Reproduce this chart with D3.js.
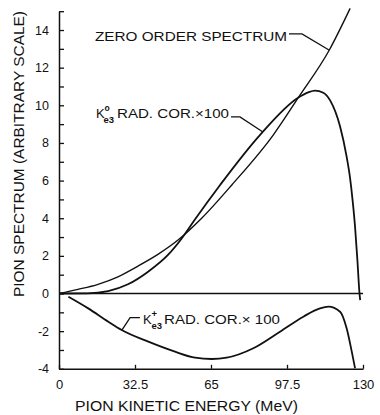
<!DOCTYPE html>
<html>
<head>
<meta charset="utf-8">
<script src="https://cdn.jsdelivr.net/npm/d3@7"></script>
<style>
body { margin: 0; background: #fff; }
text { font-family: "Liberation Sans", Arial, sans-serif; fill: #111; }
</style>
</head>
<body>
<div id="chart"></div>
<script>
// pion kinetic energy (MeV) and spectrum values
const zeroOrderE = [0, 8.1, 16.7, 25.2, 33.8, 42.3, 50.9, 61, 73.9, 91.6, 102.4, 115.6, 124.5];
const zeroOrderY = [0, 0.22, 0.49, 0.89, 1.46, 2.08, 2.84, 4.0, 5.77, 8.42, 10.42, 12.94, 15.15];

const k0E = [0, 12, 21, 29.5, 38.1, 46.6, 52.3, 58.2, 68.9, 85.9, 102.4, 106.6, 109.5, 113, 116, 120.2, 123, 124.4, 125.6, 126.6, 127.6, 128.5, 128.8];
const k0Y = [0, 0.01, 0.13, 0.49, 1.16, 2.05, 2.9, 3.95, 5.77, 8.42, 10.42, 10.69, 10.78, 10.67, 10.25, 8.87, 7.27, 6.2, 4.9, 3.55, 1.78, 0.01, -0.35];

const kPlusE = [4, 12.5, 21.1, 26.8, 38.2, 49.6, 58.2, 65.3, 71.7, 83.1, 94.5, 104.5, 111.6, 115.2, 120.2, 123, 125.2, 126.6];
const kPlusY = [-0.17, -0.79, -1.5, -1.94, -2.56, -3.09, -3.41, -3.48, -3.41, -2.91, -2.03, -1.23, -0.79, -0.7, -0.97, -1.85, -3.09, -3.97];

const xTicks = [0, 32.5, 65, 97.5, 130];
const xTickLabels = ["0", "32.5", "65", "97.5", "130"];
const yLabelled = [-4, -2, 0, 2, 4, 6, 8, 10, 12, 14];

// leader lines of the curve labels, in data units
const zeroLeader = [[98.35, 13.79], [103.9, 13.79], [115.45, 12.94]];
const k0Leader = [[73.55, 9.38], [77.4, 9.38], [87.2, 8.58]];
const kPlusLeader = [[34.6, -1.28], [30.4, -1.28], [26.9, -1.94]];

const margin = { top: 11.2, right: 17, bottom: 46.2, left: 59 };
const width = 380, height = 415;

const svg = d3.select('#chart').append('svg')
  .attr('width', width)
  .attr('height', height);

const x = d3.scaleLinear().domain([0, 130]).range([margin.left, width - margin.right]);
const y = d3.scaleLinear().domain([-4, 15]).range([height - margin.bottom, margin.top]);

const ink = '#111';

// y axis: a tick at every unit, label at the even ones
const yAxis = svg.append('g')
  .attr('transform', `translate(${margin.left},0)`)
  .call(d3.axisLeft(y)
    .tickValues(d3.range(-4, 16))
    .tickSize(-5)
    .tickSizeOuter(0)
    .tickPadding(10)
    .tickFormat(d => yLabelled.includes(d) ? String(d) : ''));
yAxis.select('.domain').attr('stroke', ink).attr('stroke-width', 1.5);
yAxis.selectAll('.tick line').attr('stroke', ink).attr('stroke-width', 1.3);
yAxis.selectAll('.tick text')
  .style('font-family', '"Liberation Sans", Arial, sans-serif')
  .style('font-size', '12.5px')
  .attr('fill', ink);

const xAxis = svg.append('g')
  .attr('transform', `translate(0,${y(-4)})`)
  .call(d3.axisBottom(x)
    .tickValues(xTicks)
    .tickSize(-4)
    .tickSizeOuter(0)
    .tickPadding(11)
    .tickFormat((d, i) => xTickLabels[i]));
xAxis.select('.domain').attr('stroke', ink).attr('stroke-width', 1.5);
xAxis.selectAll('.tick line').attr('stroke', ink).attr('stroke-width', 1.3);
xAxis.selectAll('.tick text')
  .style('font-family', '"Liberation Sans", Arial, sans-serif')
  .style('font-size', '13px')
  .attr('fill', ink);

// zero line
svg.append('line')
  .attr('x1', x(0)).attr('x2', x(130))
  .attr('y1', y(0)).attr('y2', y(0))
  .attr('stroke', ink)
  .attr('stroke-width', 1.5);

const line = d3.line()
  .x(d => x(d[0]))
  .y(d => y(d[1]))
  .curve(d3.curveMonotoneX);

const series = [
  { e: zeroOrderE, v: zeroOrderY, w: 1.4 },
  { e: k0E, v: k0Y, w: 1.8 },
  { e: kPlusE, v: kPlusY, w: 1.8 }
];

svg.append('g').selectAll('path')
  .data(series)
  .enter()
  .append('path')
  .attr('d', s => line(s.e.map((e, i) => [e, s.v[i]])))
  .attr('fill', 'none')
  .attr('stroke', ink)
  .attr('stroke-width', s => s.w)
  .attr('stroke-linejoin', 'round');

// leaders
const leader = d3.line().x(d => x(d[0])).y(d => y(d[1]));
svg.append('g').selectAll('path')
  .data([zeroLeader, k0Leader, kPlusLeader])
  .enter()
  .append('path')
  .attr('d', leader)
  .attr('fill', 'none')
  .attr('stroke', ink)
  .attr('stroke-width', 1.3);

// curve labels
function label(txt, lx, ly, size, len, weight) {
  const t = svg.append('text')
    .attr('x', lx).attr('y', ly)
    .style('font-size', size + 'px')
    .style('font-weight', weight || 'normal')
    .text(txt);
  if (len) t.attr('textLength', len).attr('lengthAdjust', 'spacingAndGlyphs');
  return t;
}

label('ZERO ORDER SPECTRUM', 95, 40.5, 13, 192);

label('K', 96, 118, 13);
label('o', 104.5, 110.5, 8.5, null, 'bold');
label('e3', 103.5, 122.5, 9.5, null, 'bold');
label('RAD. COR.\u00d7100', 117, 118, 13, 112);

label('K', 143, 324, 13);
label('+', 151.5, 317, 9.5, null, 'bold');
label('e3', 151.5, 328.5, 9.5, null, 'bold');
label('RAD. COR.\u00d7 100', 164, 324, 13, 116);

// axis titles
svg.append('text')
  .attr('x', 75).attr('y', 411)
  .attr('textLength', 223).attr('lengthAdjust', 'spacingAndGlyphs')
  .style('font-size', '15px')
  .text('PION KINETIC ENERGY (MeV)');

svg.append('text')
  .attr('transform', 'translate(24,154) rotate(-90)')
  .attr('text-anchor', 'middle')
  .attr('textLength', 286).attr('lengthAdjust', 'spacingAndGlyphs')
  .style('font-size', '15px')
  .text('PION SPECTRUM (ARBITRARY SCALE)');
</script>
</body>
</html>
